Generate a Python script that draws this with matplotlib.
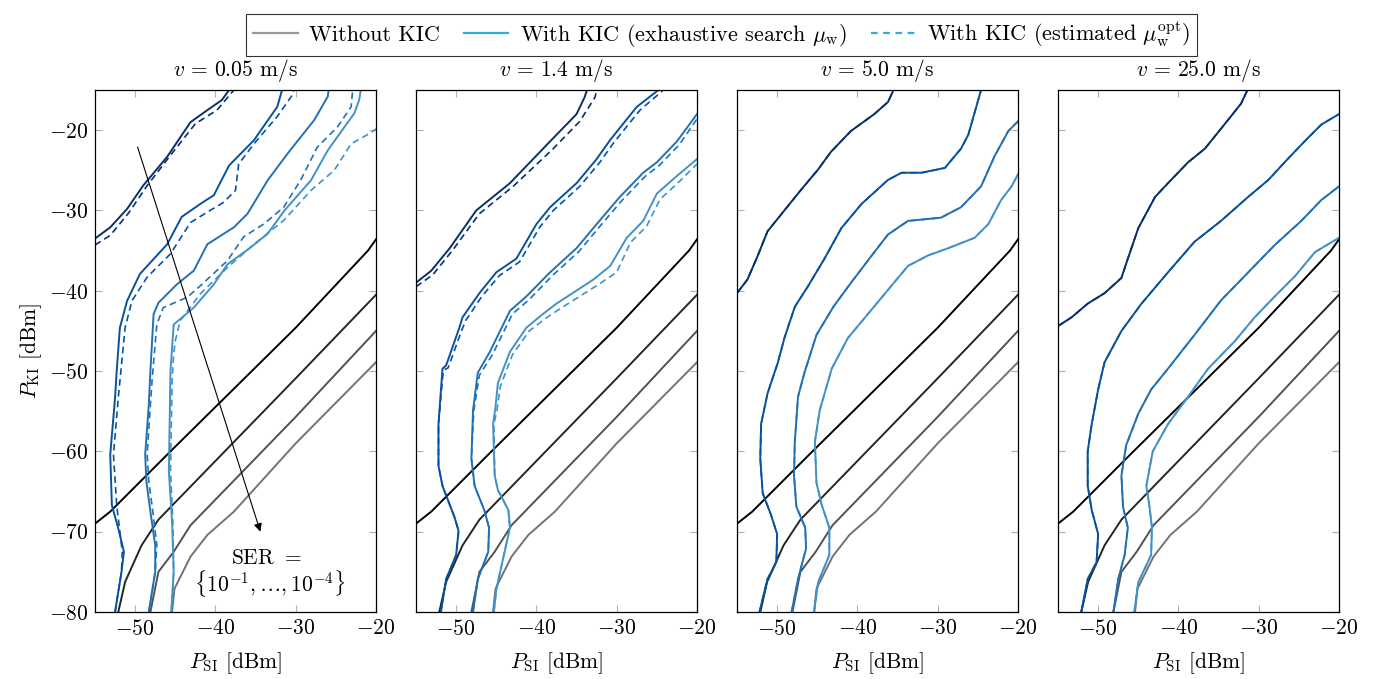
import matplotlib
matplotlib.use("Agg")
import matplotlib.pyplot as plt
from matplotlib.lines import Line2D

plt.rcParams['font.family'] = 'serif'
plt.rcParams['font.serif'] = ['cmr10', 'DejaVu Serif']
plt.rcParams['mathtext.fontset'] = 'cm'
plt.rcParams['axes.formatter.use_mathtext'] = True
plt.rcParams['font.size'] = 14

# speeds per panel
speeds = ["0.05", "1.4", "5.0", "25.0"]

# Without KIC, SER = 1e-1 ... 1e-4 (same in every panel)
nokic_x = [
    [-55, -53.1, -45.6, -30, -21, -20],
    [-52.1, -51.25, -49.2, -47.1, -30, -20],
    [-48.1, -47.1, -45.2, -43.1, -30, -20],
    [-45.4, -45.1, -43.1, -41.0, -37.7, -30, -20],
]
nokic_y = [
    [-69, -67.5, -60, -44.6, -35.0, -33.6],
    [-80, -76.25, -71.7, -68.5, -50.9, -40.5],
    [-80, -75, -72.5, -69.2, -55.7, -45.0],
    [-80, -77.1, -73.1, -70.4, -67.5, -59.0, -48.9],
]

# ---- v = 0.05 m/s ----
p1_x = [
    [-55, -53.1, -51, -49, -46.0, -43.1, -41.0, -39.2, -38.3, -37.8],
    [-52.5, -51.7, -51.4, -52.1, -52.9, -53.1, -52.5, -52.3, -51.9, -51, -49.4, -46, -44.2, -41.9, -40.2, -38.3, -35.2, -32.3, -31.7, -31.5],
    [-48.3, -47.5, -47.5, -48.1, -48.6, -48.75, -48.3, -48.1, -47.7, -47.1, -44.8, -42.7, -41, -37.7, -36, -33.5, -31, -27.7, -26, -25.8],
    [-45.5, -45.2, -45.4, -45.8, -45.6, -45.2, -42.7, -40.2, -38.5, -35.6, -33.5, -31.4, -28.1, -26, -22.7, -22.1, -21.9, -21.7],
]
p1_y = [
    [-33.5, -32.1, -29.8, -26.9, -23.3, -19.0, -17.5, -16.25, -15, -14],
    [-80, -75, -72.5, -69.6, -66.7, -60.4, -53.3, -50, -44.6, -41.25, -37.9, -34.2, -30.8, -29.2, -28.1, -24.4, -21.25, -17.1, -15, -14],
    [-80, -75, -71.7, -67.5, -63.75, -60.4, -54.2, -50, -42.9, -41.5, -39.2, -37.5, -34.2, -32.1, -30.4, -26.25, -22.9, -18.75, -15.8, -14],
    [-80, -75, -68.75, -62.5, -50, -44.2, -42.1, -39.2, -36.7, -34.6, -32.9, -30, -26.25, -22.5, -17.9, -16.25, -15, -14],
]
p1_dx = [
    [-55, -53.1, -50.8, -48.5, -45.5, -42.5, -39.8, -37.7, -37.3],
    [-52.5, -51.7, -51.6, -51.9, -52.3, -52.7, -52.1, -51.9, -51.25, -50.4, -48.5, -45.6, -43.1, -41, -39, -37.5, -37.1, -35.2, -32.3, -30.4, -30.1],
    [-48.3, -47.5, -47.3, -47.8, -48.3, -48.5, -48.1, -47.9, -47.3, -46.5, -43.5, -41.9, -38.5, -36.5, -34, -31.5, -29.4, -27.3, -24.8, -23.1, -22.9],
    [-45.5, -45.2, -45.3, -45.6, -45.4, -45.2, -45, -44.4, -41.9, -38.5, -35.2, -31.5, -28.1, -25.2, -23.1, -20.6, -19.5],
]
p1_dy = [
    [-34.3, -33.1, -30.3, -26.9, -23.0, -19.2, -17.5, -15, -14],
    [-80, -75, -72.5, -70, -66.7, -60.4, -53.3, -51.25, -44.6, -41.25, -38.3, -35.4, -31.5, -30.2, -29, -27.5, -24.2, -21.7, -18.3, -15.6, -14.5],
    [-80, -75, -71.7, -67.5, -63.75, -60.4, -54.2, -51.25, -44.2, -42.1, -40.8, -39.4, -36.25, -33.3, -31.7, -29.6, -26.25, -22.1, -19.6, -17.1, -15],
    [-80, -75, -68.75, -62.5, -51.25, -47.9, -46.25, -43.75, -40.4, -37.1, -34.2, -31.25, -27.5, -25, -21.7, -20.3, -19.5],
]

# ---- v = 1.4 m/s ----
p2_x = [
    [-55, -53.1, -50.8, -47.5, -43.3, -38.3, -35, -34, -33.7, -33.4],
    [-51.9, -51.25, -50, -49.7, -50.2, -51.7, -52.2, -52.2, -51.7, -51.25, -49.6, -49.2, -47.1, -45, -42.5, -40, -38.3, -35, -32.5, -30.8, -27.5, -24.8, -24.4],
    [-47.9, -47.3, -46, -45.9, -46.5, -47.7, -48.1, -47.9, -47.3, -45.8, -43.3, -41.25, -38.3, -35, -32.5, -29.6, -26.7, -25, -22.5, -20],
    [-45.3, -45, -43.3, -43.5, -44.8, -45.2, -45.4, -45.1, -44.8, -43.3, -41.25, -39.2, -37.5, -32.9, -30.8, -28.75, -26.7, -25, -22.5, -20],
]
p2_y = [
    [-39.0, -37.5, -34.7, -30.0, -26.6, -21.4, -18.0, -15.9, -15, -14],
    [-80, -75.9, -72.9, -69.9, -68.2, -64.3, -61.8, -56.6, -49.7, -49.3, -44.6, -43.3, -40.3, -37.7, -36.0, -31.7, -29.6, -26.6, -23.6, -21.2, -17.1, -15, -14.5],
    [-80, -75.9, -72.5, -69.5, -67.3, -64.3, -60.9, -54.9, -50.2, -47.6, -42.5, -40.7, -37.7, -34.7, -31.7, -28.3, -25.3, -24.0, -21.4, -18.0],
    [-80, -77.2, -69.5, -67.3, -64.8, -63.0, -56.6, -54.5, -51.5, -47.6, -44.6, -42.9, -41.6, -38.6, -36.9, -33.4, -31.3, -27.9, -25.7, -23.6],
]
p2_dx = [
    [-55, -52.9, -50.4, -47.1, -42.9, -37.9, -34.6, -32.7, -32.5, -32.2],
    [-51.9, -51.25, -50, -49.7, -50.2, -51.7, -52.2, -52.2, -51.6, -51.0, -49.3, -48.8, -46.8, -44.6, -42.1, -39.6, -37.9, -34.6, -32.1, -30.4, -27.1, -24.4, -24.0],
    [-47.9, -47.3, -46, -45.9, -46.5, -47.7, -48.1, -47.8, -47.1, -45.5, -43.0, -40.9, -38.0, -34.7, -32.2, -29.3, -26.4, -24.7, -22.2, -20],
    [-45.3, -45, -43.3, -43.5, -44.8, -45.2, -45.3, -44.9, -44.5, -43.0, -40.9, -38.8, -37.0, -32.4, -30.0, -28.3, -26.3, -24.6, -22.2, -20],
]
p2_dy = [
    [-39.5, -38.0, -34.9, -30.4, -27.0, -22.3, -18.9, -15.9, -15, -14],
    [-80, -75.9, -72.9, -69.9, -68.2, -64.3, -61.8, -56.6, -49.9, -49.6, -44.9, -43.7, -40.7, -38.1, -36.4, -32.1, -30.0, -27.0, -24.0, -21.6, -17.5, -15.2, -14.6],
    [-80, -75.9, -72.5, -69.5, -67.3, -64.3, -60.9, -54.9, -50.5, -48.0, -42.9, -41.1, -38.1, -35.1, -32.1, -28.7, -25.7, -24.4, -21.8, -18.6],
    [-80, -77.2, -69.5, -67.3, -64.8, -63.0, -56.6, -54.8, -51.9, -48.0, -45.0, -43.4, -42.2, -39.3, -37.7, -34.0, -32.0, -28.6, -26.4, -24.2],
]

# ---- v = 5.0 m/s ----
p3_x = [
    [-55, -53.7, -52.4, -51.2, -49.1, -47, -44.9, -43.3, -40.8, -37.9, -36.2, -35.5, -35.2],
    [-52.2, -51.2, -50.1, -50, -50.8, -51.8, -52.1, -52, -51.2, -49.9, -49.1, -47.8, -46.2, -44.1, -42, -39.5, -36.2, -34.5, -32, -29.1, -27.1, -26.2, -24.6, -24.3],
    [-48.2, -47.4, -46.4, -46.5, -47.6, -47.9, -47.8, -47.4, -46.6, -45.1, -43, -40.8, -37.9, -36.2, -33.7, -29.6, -27.1, -24.6, -22.9, -21.2, -20],
    [-45.4, -44.9, -43.5, -43.5, -44.5, -45.1, -45.3, -44.7, -43.2, -41.2, -38.7, -36.2, -33.7, -31.2, -28.7, -25.4, -23.7, -22.1, -20.8, -20],
]
p3_y = [
    [-40.3, -38.6, -35.6, -32.6, -30.0, -27.4, -24.9, -22.7, -20.1, -18.0, -16.5, -15, -14],
    [-80, -75.9, -73.8, -70.3, -67.8, -65.2, -60.9, -56.6, -52.8, -48.9, -45.9, -42.0, -39.5, -36.0, -32.2, -29.2, -26.2, -25.3, -25.3, -24.7, -22.3, -20.6, -15, -14],
    [-80, -75.9, -72.1, -69.5, -66.9, -63.0, -58.8, -53.2, -50.2, -45.5, -42.0, -39.0, -35.2, -33.0, -31.3, -30.9, -29.6, -27.0, -23.2, -20.1, -18.9],
    [-80, -76.3, -72.9, -69.5, -66.5, -63.9, -58.8, -54.9, -49.7, -45.9, -42.9, -39.9, -36.9, -35.6, -34.7, -33.4, -31.7, -28.7, -27.0, -25.5],
]

# ---- v = 25.0 m/s ----
p4_x = [
    [-55, -53.3, -51.3, -49.2, -47.1, -46.3, -45, -42.9, -41.3, -38.8, -36.7, -34.6, -32.2, -31.4, -31.1],
    [-52.1, -51.3, -50.2, -50, -50.8, -51.3, -51.3, -50.8, -50, -49.2, -47.1, -44.6, -41.3, -38, -34.7, -31.3, -28.8, -26.4, -23.9, -22.2, -20],
    [-48.1, -47.5, -46.7, -46.3, -46.9, -47.1, -46.5, -45, -43.4, -41.3, -38, -34.7, -31.3, -28, -24.7, -22.2, -20],
    [-45.5, -45, -43.4, -43.3, -43.6, -44, -43.2, -41.3, -38.8, -36.3, -33, -30.5, -28, -25.5, -23, -20],
]
p4_y = [
    [-44.4, -43.3, -41.6, -40.3, -38.4, -36.0, -32.2, -28.3, -26.6, -24.0, -22.3, -19.7, -16.7, -15, -14],
    [-80, -75.9, -73.8, -70.3, -67.3, -64.3, -60.0, -56.6, -52.3, -48.9, -45.0, -41.6, -37.7, -33.9, -31.3, -28.3, -26.2, -23.6, -21.0, -19.3, -18.0],
    [-80, -75.9, -72.9, -69.5, -66.9, -63.0, -59.2, -55.3, -52.3, -49.7, -45.5, -41.2, -37.7, -34.3, -31.3, -28.7, -27.0],
    [-80, -76.3, -72.9, -69.5, -66.9, -64.3, -60.0, -56.6, -53.2, -49.7, -46.3, -43.3, -40.7, -38.2, -35.2, -33.4],
]

# estimated mu_w practically coincides with exhaustive search for v = 5 and 25 m/s
panels = [
    (p1_x, p1_y, p1_dx, p1_dy),
    (p2_x, p2_y, p2_dx, p2_dy),
    (p3_x, p3_y, p3_x, p3_y),
    (p4_x, p4_y, p4_x, p4_y),
]

greys = ['#000000', '#252525', '#525252', '#737373']
blues = ['#08306b', '#08519c', '#2171b5', '#4292c6']

fig = plt.figure(figsize=(13.85, 6.79), dpi=100)
W, H = 1385.0, 679.0
axes = []
for i in range(4):
    left = (95 + 321 * i) / W
    ax = fig.add_axes([left, 1 - 612 / H, 281 / W, 522 / H])
    axes.append(ax)

for i, ax in enumerate(axes):
    sx, sy, dx, dy = panels[i]
    for k in range(4):
        ax.plot(nokic_x[k], nokic_y[k], color=greys[k], lw=1.4)
    for k in range(4):
        ax.plot(dx[k], dy[k], color=blues[k], lw=1.2, ls=(0, (4, 2.5)))
        ax.plot(sx[k], sy[k], color=blues[k], lw=1.4)

    ax.set_xlim(-55, -20)
    ax.set_ylim(-80, -15)
    ax.set_xticks([-50, -40, -30, -20])
    ax.set_yticks([-80, -70, -60, -50, -40, -30, -20])
    ax.tick_params(direction='in', length=5, color='#b0b0b0', top=True, right=True,
                   labelsize=15.5, pad=5)
    for s in ax.spines.values():
        s.set_linewidth(0.9)
    ax.set_title(r"$v\,=\,%s$ m/s" % speeds[i], fontsize=15.5, pad=10)
    ax.set_xlabel(r"$P_{\mathrm{SI}}$ [dBm]", fontsize=15.5, labelpad=8)
    if i == 0:
        ax.set_ylabel(r"$P_{\mathrm{KI}}$ [dBm]", fontsize=15.5, labelpad=3)
    else:
        ax.tick_params(labelleft=False)

# arrow over the SER levels
ax = axes[0]
ax.annotate("", xy=(-34.4, -70), xytext=(-49.7, -22.1),
            arrowprops=dict(arrowstyle='-|>', color='black', lw=0.8,
                            mutation_scale=12, shrinkA=0, shrinkB=0))
ax.text(-33.6, -73.3, r"SER $=$", ha='center', va='center', fontsize=15.5)
ax.text(-33.2, -76.5, r"$\{10^{-1},\ldots,10^{-4}\}$", ha='center', va='center', fontsize=15.5)

handles = [
    Line2D([], [], color='#999999', lw=1.6),
    Line2D([], [], color='#33aadd', lw=1.6),
    Line2D([], [], color='#33aadd', lw=1.6, ls=(0, (3, 2.5))),
]
labels = [
    "Without KIC",
    r"With KIC (exhaustive search $\mu_{\mathrm{w}}$)",
    r"With KIC (estimated $\mu_{\mathrm{w}}^{\mathrm{opt}}$)",
]
leg = fig.legend(handles, labels, loc='upper center', bbox_to_anchor=(721.5 / W, 0.996),
                 ncol=3, fontsize=16, frameon=True, fancybox=False,
                 edgecolor='black', handlelength=2.0, columnspacing=1.1,
                 handletextpad=0.5, borderpad=0.3)
leg.get_frame().set_linewidth(0.8)

fig.savefig("out.png", dpi=100)
